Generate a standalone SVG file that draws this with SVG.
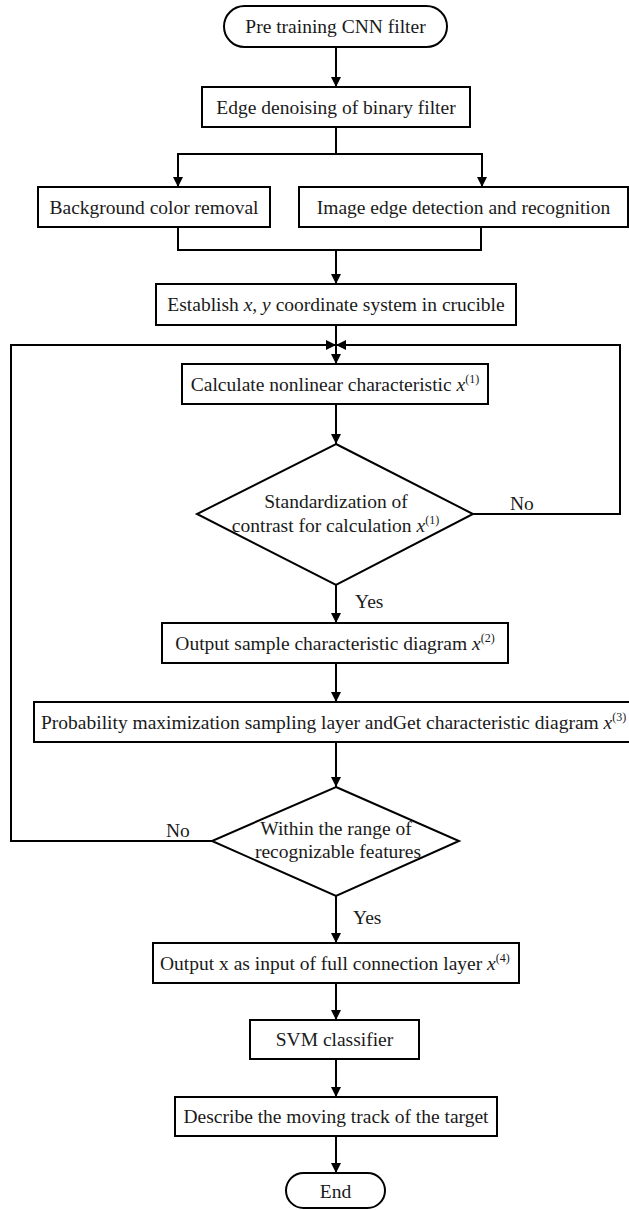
<svg xmlns="http://www.w3.org/2000/svg" width="629" height="1210" viewBox="0 0 629 1210">
<style>
.box{fill:#fff;stroke:#000;stroke-width:2}
.ln{fill:none;stroke:#000;stroke-width:2}
.t{font-family:"Liberation Serif","Times New Roman",serif;font-size:19.5px;fill:#1a1a1a;text-anchor:middle}
.tl{font-family:"Liberation Serif","Times New Roman",serif;font-size:19.5px;fill:#1a1a1a}
.i{font-style:italic}
.sup{font-size:12px}
</style>
<defs>
<marker id="arr" viewBox="0 0 10 10" refX="10" refY="5" markerWidth="10" markerHeight="10" orient="auto" markerUnits="userSpaceOnUse">
<path d="M0,0 L10,5 L0,10 z" fill="#000"/>
</marker>
</defs>
<g id="connectors">
<line class="ln" x1="336" y1="47" x2="336" y2="87" marker-end="url(#arr)"/>
<line class="ln" x1="336" y1="127" x2="336" y2="154"/>
<polyline class="ln" points="178,154 482,154 482,187" marker-end="url(#arr)"/>
<line class="ln" x1="178" y1="153" x2="178" y2="187" marker-end="url(#arr)"/>
<polyline class="ln" points="178,227 178,250 481,250 481,227"/>
<line class="ln" x1="336" y1="250" x2="336" y2="284" marker-end="url(#arr)"/>
<line class="ln" x1="336" y1="325" x2="336" y2="364" marker-end="url(#arr)"/>
<polyline class="ln" points="212,841 11,841 11,345 336,345" marker-end="url(#arr)"/>
<polyline class="ln" points="473,514 620,514 620,345 336,345" marker-end="url(#arr)"/>
<line class="ln" x1="336" y1="404" x2="336" y2="444" marker-end="url(#arr)"/>
<line class="ln" x1="336" y1="585" x2="336" y2="623" marker-end="url(#arr)"/>
<line class="ln" x1="336" y1="663" x2="336" y2="702" marker-end="url(#arr)"/>
<line class="ln" x1="336" y1="742" x2="336" y2="787" marker-end="url(#arr)"/>
<line class="ln" x1="336" y1="896" x2="336" y2="943" marker-end="url(#arr)"/>
<line class="ln" x1="336" y1="983" x2="336" y2="1020" marker-end="url(#arr)"/>
<line class="ln" x1="336" y1="1059" x2="336" y2="1097" marker-end="url(#arr)"/>
<line class="ln" x1="336" y1="1136" x2="336" y2="1173" marker-end="url(#arr)"/>
<text class="tl" x="510" y="510">No</text>
<text class="tl" x="355" y="608">Yes</text>
<text class="tl" x="166" y="837">No</text>
<text class="tl" x="353" y="924">Yes</text>
</g>
<g id="start">
<rect class="box" x="224" y="6" width="223" height="41" rx="20.5" ry="20.5"/>
<text class="t" x="335.5" y="33">Pre training CNN filter</text>
</g>
<g id="edge-denoising">
<rect class="box" x="202" y="87" width="268" height="40"/>
<text class="t" x="336" y="114">Edge denoising of binary filter</text>
</g>
<g id="background-removal">
<rect class="box" x="38" y="187" width="232" height="40"/>
<text class="t" x="154" y="214">Background color removal</text>
</g>
<g id="edge-detection">
<rect class="box" x="299" y="187" width="329" height="40"/>
<text class="t" x="463.5" y="214">Image edge detection and recognition</text>
</g>
<g id="coordinate-system">
<rect class="box" x="156" y="284" width="360" height="41"/>
<text class="t" x="336" y="311">Establish <tspan class="i">x</tspan>, <tspan class="i">y</tspan> coordinate system in crucible</text>
</g>
<g id="calculate">
<rect class="box" x="182" y="364" width="306" height="40"/>
<text class="t" x="335" y="391">Calculate nonlinear characteristic <tspan class="i">x</tspan><tspan class="sup" dy="-8">(1)</tspan></text>
</g>
<g id="decision-standardization">
<polygon class="box" points="336,444 473,514 336,585 197,514"/>
<text class="t" x="336" y="508">Standardization of</text>
<text class="t" x="335.5" y="532">contrast for calculation <tspan class="i">x</tspan><tspan class="sup" dy="-8">(1)</tspan></text>
</g>
<g id="output-sample">
<rect class="box" x="162" y="623" width="346" height="40"/>
<text class="t" x="335" y="650">Output sample characteristic diagram <tspan class="i">x</tspan><tspan class="sup" dy="-8">(2)</tspan></text>
</g>
<g id="probability-sampling">
<rect class="box" x="34" y="702" width="604" height="40"/>
<text class="tl" x="41" y="729">Probability maximization sampling layer andGet characteristic diagram <tspan class="i">x</tspan><tspan class="sup" dy="-8">(3)</tspan></text>
</g>
<g id="decision-range">
<polygon class="box" points="336,787 459,841 336,896 212,841"/>
<text class="t" x="336" y="835">Within the range of</text>
<text class="t" x="338" y="858">recognizable features</text>
</g>
<g id="output-x">
<rect class="box" x="153" y="943" width="366" height="40"/>
<text class="tl" x="160" y="970">Output x as input of full connection layer <tspan class="i">x</tspan><tspan class="sup" dy="-8">(4)</tspan></text>
</g>
<g id="svm">
<rect class="box" x="250" y="1020" width="169" height="39"/>
<text class="t" x="334.5" y="1046">SVM classifier</text>
</g>
<g id="describe-track">
<rect class="box" x="175" y="1097" width="322" height="39"/>
<text class="t" x="336" y="1123">Describe the moving track of the target</text>
</g>
<g id="end">
<rect class="box" x="286" y="1173" width="99" height="35" rx="17.5" ry="17.5"/>
<text class="t" x="335.5" y="1198">End</text>
</g>
</svg>
